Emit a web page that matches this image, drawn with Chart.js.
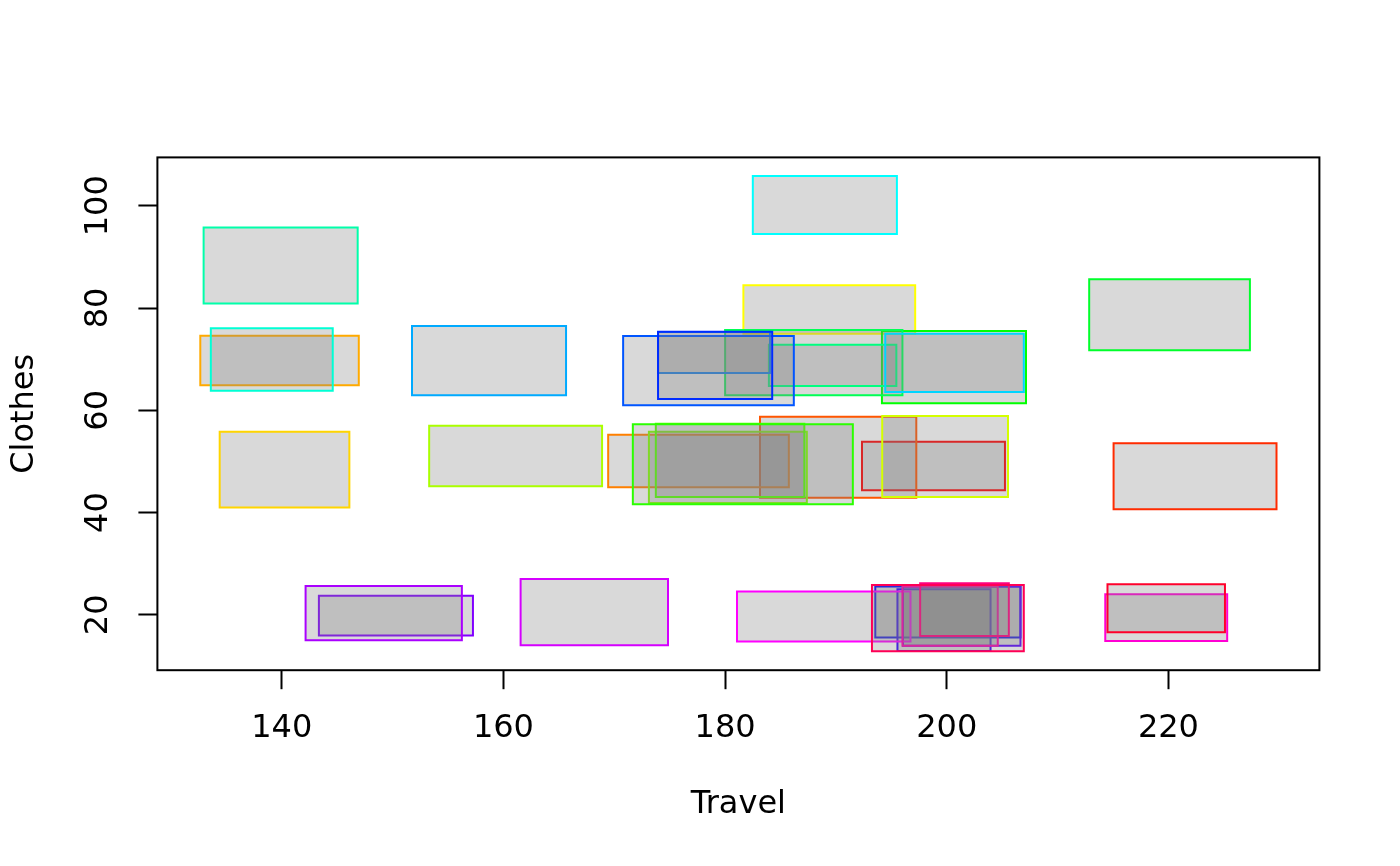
<!DOCTYPE html>
<html>
<head>
<meta charset="utf-8">
<title>Travel vs Clothes</title>
<script src="https://cdn.jsdelivr.net/npm/chart.js@4.4.1/dist/chart.umd.min.js"></script>
<style>
    html, body { margin: 0; padding: 0; background: #fff; }
    canvas { display: block; }
</style>
</head>
<body>
<canvas id="rectChart" width="1400" height="866"></canvas>
<script>
// ─── Data (rectangle centres and sizes, in data units) ───────────────────────
const travel  = [198.8, 222.4, 190.2, 177.6, 139.8, 140.25, 189.4, 199.85, 161.1, 180.25, 180.45, 181.6,
                 200.65, 220.1, 188.0, 189.7, 139.9, 139.1, 189.0, 200.7, 158.7, 179.0, 178.5, 179.1,
                 200.1, 199.75, 201.35, 150.3, 149.2, 168.2, 188.9, 219.8, 200.3, 201.6, 200.1, 219.8];
const clothes = [49.09, 47.11, 50.82, 50.08, 69.73, 48.40, 79.70, 50.97, 51.06, 48.84, 50.23, 49.44,
                 68.45, 78.67, 69.33, 68.79, 88.29, 69.93, 100.15, 69.28, 69.73, 71.31, 67.75, 68.79,
                 20.55, 18.97, 19.76, 19.86, 20.35, 20.55, 19.66, 19.46, 19.76, 21.04, 19.37, 21.29];
const rectW   = [12.9, 14.7, 14.1, 16.3, 14.3, 11.7, 15.5, 11.35, 15.6, 14.25, 13.4, 19.85,
                 13.0, 14.5, 16.0, 11.5, 13.9, 11.0, 13.0, 12.5, 13.9, 10.1, 15.4, 10.3,
                 13.1, 8.4, 10.6, 13.9, 14.1, 13.3, 15.65, 11.0, 8.6, 8.0, 13.7, 10.6];
const rectH   = [9.48, 12.94, 15.80, 10.27, 9.68, 14.81, 9.48, 15.80, 11.85, 13.92, 14.32, 15.65,
                 14.12, 13.87, 12.74, 8.10, 14.86, 12.25, 11.36, 11.41, 13.53, 8.00, 13.53, 13.13,
                 9.97, 12.05, 11.55, 7.80, 10.62, 12.94, 9.78, 9.18, 11.55, 10.32, 12.94, 9.38];

const xTicks = [140, 160, 180, 200, 220];
const yTicks = [20, 40, 60, 80, 100];

// rainbow(36) outline colours, one per rectangle
const outline = ['#FF0000', '#FF2B00', '#FF5500', '#FF8000', '#FFAA00', '#FFD500', '#FFFF00', '#D4FF00',
                 '#AAFF00', '#80FF00', '#55FF00', '#2BFF00', '#00FF00', '#00FF2B', '#00FF55', '#00FF80',
                 '#00FFAA', '#00FFD5', '#00FFFF', '#00D5FF', '#00AAFF', '#0080FF', '#0055FF', '#002BFF',
                 '#0000FF', '#2B00FF', '#5500FF', '#8000FF', '#AA00FF', '#D500FF', '#FF00FF', '#FF00D4',
                 '#FF00AA', '#FF0080', '#FF0055', '#FF002B'];

(function () {
    'use strict';

    const FONT = { family: 'DejaVu Sans', size: 32 };
    const FILL = 'rgba(128,128,128,0.3)';

    // closed outline of one rectangle, corners in data units
    function corners(i) {
        const x0 = travel[i] - rectW[i] / 2, x1 = travel[i] + rectW[i] / 2;
        const y0 = clothes[i] - rectH[i] / 2, y1 = clothes[i] + rectH[i] / 2;
        return [
            { x: x0, y: y0 }, { x: x1, y: y0 }, { x: x1, y: y1 },
            { x: x0, y: y1 }, { x: x0, y: y0 },
        ];
    }

    const datasets = travel.map((_, i) => ({
        data:            corners(i),
        borderColor:     outline[i],
        backgroundColor: FILL,
        borderWidth:     2,
        borderCapStyle:  'square',
        borderJoinStyle: 'miter',
        fill:            'shape',
        tension:         0,
        pointRadius:     0,
        order:           -i,   // first row painted first, like symbols()
    }));

    // ─── Plot frame ──────────────────────────────────────────────────────────
    const frame = {
        id: 'frame',
        afterDraw(chart) {
            const a = chart.chartArea, c = chart.ctx;
            c.save();
            c.strokeStyle = '#000';
            c.lineWidth = 2;
            c.strokeRect(a.left, a.top, a.right - a.left, a.bottom - a.top);
            c.restore();
        },
    };

    function fixedTicks(list) {
        return scale => { scale.ticks = list.map(v => ({ value: v })); };
    }

    new Chart(document.getElementById('rectChart'), {
        type: 'line',
        data: { datasets },
        options: {
            responsive: false,
            devicePixelRatio: 1,
            animation: false,
            layout: { padding: { top: 157.4, right: 80.6, bottom: 0, left: 0 } },
            plugins: { legend: { display: false }, tooltip: { enabled: false } },
            scales: {
                x: {
                    type: 'linear',
                    min: 128.78, max: 233.62,
                    afterBuildTicks: fixedTicks(xTicks),
                    afterFit: s => { s.height = 195.8; },
                    border: { display: false },
                    grid: { drawOnChartArea: false, drawTicks: true, tickLength: 19, tickWidth: 2, tickColor: '#000' },
                    ticks: { color: '#000', font: FONT, padding: 20, autoSkip: false, maxRotation: 0 },
                    title: { display: true, text: 'Travel', color: '#000', font: FONT, padding: { top: 0, bottom: 42 } },
                },
                y: {
                    type: 'linear',
                    min: 9.18, max: 109.45,
                    afterBuildTicks: fixedTicks(yTicks),
                    afterFit: s => { s.width = 157.4; },
                    border: { display: false },
                    grid: { drawOnChartArea: false, drawTicks: true, tickLength: 19, tickWidth: 2, tickColor: '#000' },
                    ticks: { color: '#000', font: FONT, padding: 9, autoSkip: false,
                             minRotation: 90, maxRotation: 90, crossAlign: 'center' },
                    title: { display: true, text: 'Clothes', color: '#000', font: FONT, padding: { top: 5, bottom: 0 } },
                },
            },
        },
        plugins: [frame],
    });
})();
</script>
</body>
</html>
